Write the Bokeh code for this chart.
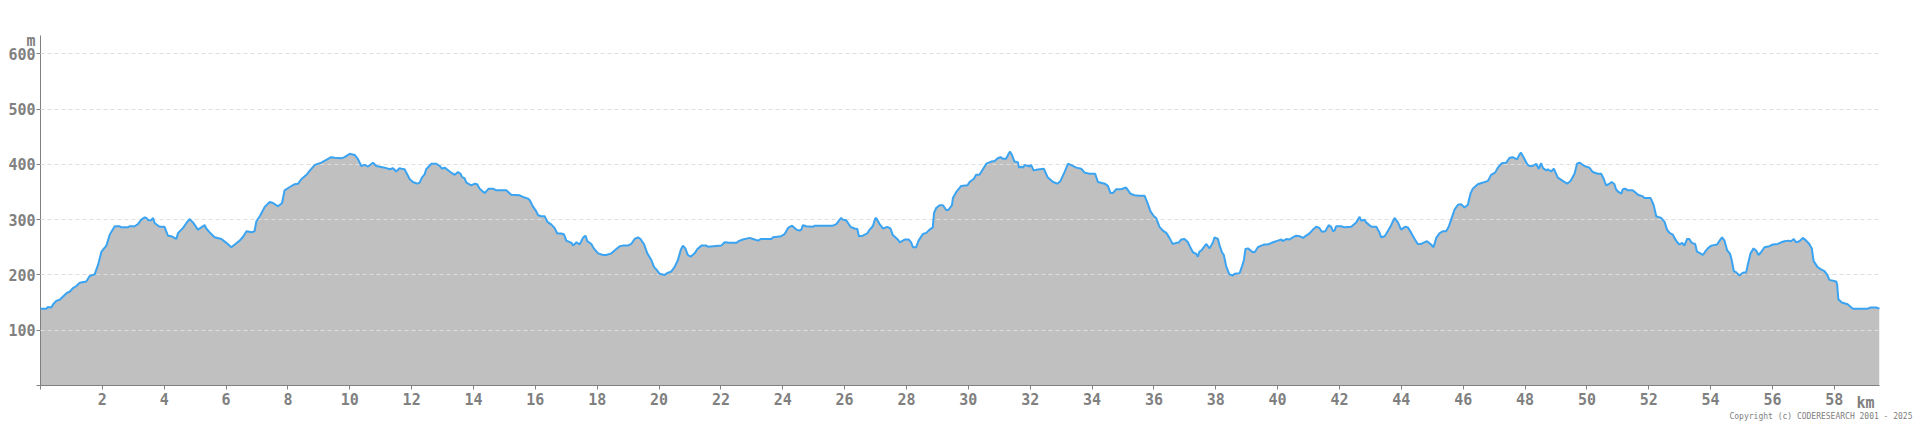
from bokeh.plotting import figure
from bokeh.models import FixedTicker, Title
from bokeh.embed import file_html
from bokeh.resources import INLINE

# distance (km) / elevation (m)
km_a = [0.0, 0.19, 0.24, 0.35, 0.41, 0.51, 0.62, 0.73, 0.84, 0.95, 1.05, 1.16, 1.27, 1.48, 1.59, 1.75, 1.86, 1.97,
        2.13, 2.24, 2.40, 2.56, 2.61, 2.83, 2.88, 3.05, 3.15, 3.26, 3.37, 3.42, 3.48, 3.58, 3.64, 3.69, 3.85, 4.01,
        4.12, 4.23, 4.39, 4.45, 4.61, 4.72, 4.82, 4.93, 5.09, 5.20, 5.31, 5.36, 5.47, 5.63, 5.85, 6.01, 6.17, 6.28,
        6.44, 6.55, 6.66, 6.82, 6.92, 6.98, 7.09, 7.25, 7.41, 7.52, 7.68, 7.81, 7.89, 8.06, 8.22, 8.33, 8.43, 8.60,
        8.70, 8.87, 9.08, 9.24, 9.40, 9.51, 9.73, 9.83, 10.00, 10.16, 10.27, 10.37, 10.48, 10.59, 10.75, 10.86,
        11.13, 11.29, 11.40, 11.50, 11.61]
m_a = [139, 139, 142, 141, 147, 153, 155, 161, 167, 170, 176, 180, 186, 188, 198, 201, 218, 242,
       253, 273, 288, 288, 286, 286, 288, 288, 292, 300, 304, 303, 299, 299, 303, 294, 287, 287,
       271, 270, 265, 276, 285, 294, 301, 295, 282, 286, 290, 284, 277, 268, 265, 258, 250, 255,
       262, 269, 279, 277, 279, 297, 306, 323, 332, 330, 324, 330, 353, 359, 364, 365, 373, 381,
       388, 399, 403, 408, 413, 412, 411, 413, 419, 417, 409, 397, 399, 396, 403, 397,
       394, 391, 393, 387, 393]

km_b = [11.67, 11.77, 11.94, 12.04, 12.18, 12.26, 12.33, 12.42, 12.47, 12.64, 12.80, 12.91, 12.98, 13.07, 13.23,
        13.39, 13.50, 13.58, 13.63, 13.71, 13.77, 13.93, 14.04, 14.12, 14.20, 14.36, 14.49, 14.63, 14.74, 15.06,
        15.22, 15.49, 15.60, 15.76, 15.82, 15.92, 16.03, 16.09, 16.19, 16.30, 16.39, 16.52, 16.62, 16.71, 16.84,
        16.93, 17.00, 17.17, 17.22, 17.33, 17.43, 17.54, 17.62, 17.68, 17.81, 17.89, 18.03, 18.19, 18.29, 18.46,
        18.56, 18.73, 18.83, 18.99, 19.10, 19.21, 19.32, 19.40, 19.51, 19.62, 19.75, 19.84, 19.91, 20.02, 20.18,
        20.29, 20.39, 20.50, 20.61, 20.70, 20.77, 20.85, 20.93, 21.02, 21.15, 21.24, 21.37, 21.53, 21.58, 22.01,
        22.12, 22.28, 22.50, 22.57, 22.71, 22.93, 23.04, 23.20, 23.30, 23.63, 23.68, 23.95, 24.06, 24.17, 24.30,
        24.44, 24.54]
m_b = [392, 391, 373, 368, 365, 367, 376, 382, 391, 401, 401, 397, 392, 394, 387,
       381, 386, 383, 377, 375, 367, 362, 365, 364, 356, 348, 356, 356, 353, 353,
       345, 344, 341, 338, 335, 324, 315, 308, 306, 306, 296, 291, 285, 275, 275,
       273, 262, 258, 253, 259, 255, 267, 271, 261, 256, 248, 239, 236, 236, 239,
       244, 252, 253, 253, 256, 265, 268, 265, 256, 239, 227, 214, 210, 202, 200,
       204, 206, 214, 227, 245, 253, 248, 236, 233, 239, 247, 253, 253, 251, 253,
       259, 258, 258, 261, 264, 267, 265, 262, 265, 265, 268, 270, 274, 285, 289,
       282, 280]

km_c = [24.60, 24.65, 24.76, 24.97, 25.03, 25.62, 25.73, 25.84, 25.89, 25.94, 26.05, 26.19, 26.32, 26.41, 26.46,
        26.59, 26.73, 26.81, 26.91, 26.99, 27.02, 27.13, 27.24, 27.38, 27.48, 27.56, 27.72, 27.78, 27.94, 28.07,
        28.15, 28.21, 28.31, 28.39, 28.53, 28.64, 28.75, 28.85, 28.89, 28.96, 29.07, 29.18, 29.29, 29.36, 29.47,
        29.50, 29.61, 29.77, 29.97, 30.04, 30.18, 30.25, 30.36, 30.47, 30.58, 30.74, 30.85, 30.95, 31.04, 31.12,
        31.22, 31.30, 31.35, 31.41, 31.49, 31.60, 31.64, 31.71, 31.77, 31.82, 31.93, 31.98, 32.03, 32.11, 32.19,
        32.44, 32.57, 32.74, 32.88, 32.98, 33.11, 33.22, 33.35, 33.49, 33.65, 33.76, 33.92, 34.10, 34.19, 34.41,
        34.51, 34.60, 34.67, 34.78, 34.94, 35.10, 35.24, 35.37, 35.53, 35.70, 35.80, 35.89, 36.00, 36.07, 36.18,
        36.29, 36.40, 36.50, 36.61, 36.72, 36.79, 36.88, 36.99, 37.10, 37.15, 37.26, 37.37, 37.42, 37.47]
m_c = [282, 290, 288, 287, 289, 289, 292, 300, 303, 300, 299, 287, 284, 283, 270,
       271, 275, 282, 288, 302, 303, 292, 284, 287, 284, 272, 264, 259, 264, 264,
       259, 250, 250, 262, 274, 276, 282, 286, 312, 321, 326, 326, 317, 318, 326,
       339, 350, 361, 362, 368, 374, 381, 381, 391, 401, 405, 406, 411, 413, 410,
       410, 419, 423, 417, 405, 404, 394, 396, 394, 399, 397, 396, 399, 389, 390,
       392, 376, 368, 365, 370, 386, 401, 398, 394, 392, 385, 383, 383, 368, 365,
       361, 348, 348, 355, 355, 358, 347, 344, 343, 343, 329, 315, 306, 303, 287,
       280, 276, 267, 256, 258, 258, 264, 265, 259, 253, 241, 238, 233, 242]

km_d = [37.53, 37.64, 37.69, 37.80, 37.91, 37.96, 38.07, 38.13, 38.20, 38.26, 38.34, 38.44, 38.55, 38.61, 38.77,
        38.84, 38.91, 38.96, 39.04, 39.20, 39.27, 39.36, 39.47, 39.58, 39.68, 39.85, 40.01, 40.12, 40.17, 40.28,
        40.38, 40.49, 40.60, 40.71, 40.82, 40.92, 41.03, 41.14, 41.25, 41.35, 41.43, 41.54, 41.65, 41.73, 41.79,
        41.84, 41.89, 42.06, 42.16, 42.38, 42.54, 42.65, 42.70, 42.81, 42.86, 43.03, 43.19, 43.29, 43.35, 43.46,
        43.56, 43.67, 43.78, 43.89, 43.99, 44.12, 44.21, 44.32, 44.43, 44.53, 44.64, 44.83, 44.96, 45.04, 45.13,
        45.23, 45.34, 45.45, 45.53, 45.61, 45.72, 45.83, 45.93, 46.04, 46.15, 46.24, 46.31, 46.47, 46.64, 46.80,
        46.90, 47.03, 47.12, 47.25, 47.39, 47.50, 47.60, 47.74, 47.82, 47.87, 47.96, 48.07, 48.14, 48.25, 48.36,
        48.44, 48.52, 48.58, 48.69, 48.74, 48.84, 48.93, 48.98, 49.06, 49.22, 49.36, 49.47, 49.60, 49.68, 49.76,
        49.92, 50.08, 50.19, 50.35, 50.40]
m_d = [244, 252, 256, 248, 259, 268, 265, 252, 241, 236, 215, 201, 199, 202, 203,
       214, 227, 247, 248, 241, 242, 250, 253, 255, 255, 259, 262, 264, 261, 265,
       264, 268, 271, 270, 267, 271, 275, 282, 287, 285, 278, 279, 290, 287, 279,
       280, 288, 288, 286, 287, 295, 305, 298, 300, 295, 287, 287, 277, 268, 270,
       279, 290, 303, 295, 282, 287, 286, 276, 265, 256, 256, 261, 255, 250, 267,
       275, 279, 279, 287, 300, 318, 327, 328, 322, 327, 348, 356, 364, 367, 370,
       381, 385, 394, 402, 403, 412, 413, 409, 418, 421, 412, 400, 397, 397, 401,
       392, 402, 393, 389, 391, 387, 392, 386, 376, 370, 365, 370, 383, 401, 403,
       397, 394, 386, 383, 383]

km_e = [50.46, 50.55, 50.62, 50.70, 50.80, 50.89, 50.94, 51.02, 51.11, 51.16, 51.24, 51.32, 51.48, 51.59, 51.65,
        51.81, 51.86, 52.06, 52.16, 52.24, 52.40, 52.51, 52.59, 52.67, 52.78, 52.83, 52.92, 52.99, 53.08, 53.15,
        53.24, 53.31, 53.39, 53.50, 53.56, 53.67, 53.75, 53.82, 53.91, 54.02, 54.21, 54.29, 54.37, 54.45, 54.53,
        54.63, 54.68, 54.75, 54.82, 54.93, 55.04, 55.15, 55.20, 55.29, 55.39, 55.47, 55.55, 55.63, 55.74, 55.90,
        56.01, 56.17, 56.28, 56.39, 56.52, 56.60, 56.69, 56.76, 56.87, 56.98, 57.09, 57.19, 57.27, 57.33, 57.46,
        57.57, 57.68, 57.77, 57.84, 58.06, 58.09, 58.13, 58.24, 58.43, 58.60, 58.87, 59.08, 59.17, 59.35, 59.46]
m_e = [383, 373, 362, 364, 368, 364, 355, 350, 347, 355, 356, 353, 353, 348, 345,
       342, 339, 339, 326, 306, 303, 296, 282, 276, 273, 267, 259, 255, 258, 253,
       265, 265, 258, 256, 242, 239, 236, 242, 248, 253, 255, 262, 268, 262, 245,
       238, 227, 207, 205, 199, 204, 205, 218, 239, 248, 244, 236, 241, 250, 252,
       255, 256, 259, 261, 262, 261, 265, 259, 261, 267, 262, 256, 248, 225, 214,
       210, 207, 200, 191, 188, 183, 156, 150, 147, 139, 139, 139, 141, 141, 139]

distance_km = km_a + km_b + km_c + km_d + km_e
elevation_m = m_a + m_b + m_c + m_d + m_e

y_ticks = [0, 100, 200, 300, 400, 500, 600]
x_ticks = list(range(0, 60, 2))
unit_y = "m"
unit_x = "km"
copyright_text = "Copyright (c) CODERESEARCH 2001 - 2025"

FONT = "DejaVu Sans Mono"
GREY = "#808080"

p = figure(width=1920, height=424, output_backend="svg", toolbar_location=None,
           x_range=(0, 59.46), y_range=(0, 633),
           min_border_left=40, min_border_right=41, min_border_top=35, min_border_bottom=39)
p.outline_line_color = None
p.background_fill_color = "white"
p.border_fill_color = "white"

p.varea(x=distance_km, y1=0, y2=elevation_m, fill_color="#c0c0c0")
ln = p.line(x=distance_km, y=elevation_m, line_color="#3aa3f2", line_width=2)
ln.level = "annotation"

p.xgrid.visible = False
p.ygrid.ticker = FixedTicker(ticks=y_ticks[1:])
p.ygrid.grid_line_color = "#dedede"
p.ygrid.grid_line_dash = "4 3"
p.ygrid.level = "guide"

for ax in (p.xaxis[0], p.yaxis[0]):
    ax.axis_line_color = GREY
    ax.major_tick_line_color = GREY
    ax.minor_tick_line_color = None
    ax.major_tick_in = 0
    ax.major_tick_out = 4
    ax.major_label_text_font = FONT
    ax.major_label_text_font_size = "15px"
    ax.major_label_text_font_style = "bold"
    ax.major_label_text_color = GREY

p.yaxis[0].ticker = FixedTicker(ticks=y_ticks)
p.yaxis[0].major_label_overrides = {0: ""}
p.yaxis[0].major_label_standoff = 1
p.xaxis[0].ticker = FixedTicker(ticks=x_ticks)
p.xaxis[0].major_label_overrides = {0: ""}
p.xaxis[0].major_label_standoff = 3

p.add_layout(Title(text=unit_y, align="left", offset=-14, standoff=-28,
                   text_font=FONT, text_font_size="15px", text_font_style="bold",
                   text_color=GREY), "above")
p.add_layout(Title(text=unit_x, align="right", offset=5, standoff=-27, vertical_align="top",
                   text_font=FONT, text_font_size="15px", text_font_style="bold",
                   text_color=GREY), "below")
p.add_layout(Title(text=copyright_text, align="right", offset=-33, standoff=4,
                   text_font=FONT, text_font_size="8px", text_font_style="normal",
                   text_color=GREY), "below")

open("out.html", "w").write(file_html(p, INLINE))
